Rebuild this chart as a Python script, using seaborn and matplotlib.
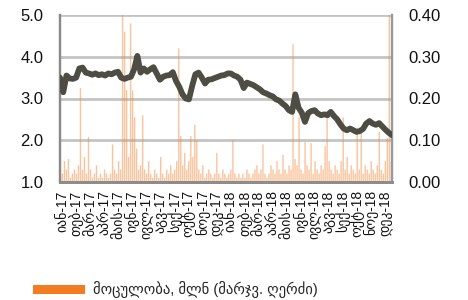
import numpy as np
import pandas as pd
import matplotlib
matplotlib.use("Agg")
import matplotlib.pyplot as plt
from matplotlib.patches import Patch
import seaborn as sns

# ---- data ----
month_labels = ["იან-17", "თებ-17", "მარ-17", "აპრ-17", "მაის-17", "ივნ-17",
                "ივლ-17", "აგვ-17", "სექ-17", "ოქტ-17", "ნოე-17", "დეკ-17",
                "იან-18", "თებ-18", "მარ-18", "აპრ-18", "მაის-18", "ივნ-18",
                "ივლ-18", "აგვ-18", "სექ-18", "ოქტ-18", "ნოე-18", "დეკ-18"]

price = [3.50, 3.15, 3.55, 3.48, 3.47, 3.50, 3.72, 3.74, 3.62, 3.60,
         3.57, 3.60, 3.56, 3.58, 3.55, 3.60, 3.58, 3.62, 3.64, 3.50,
         3.47, 3.50, 3.52, 3.70, 4.02, 3.62, 3.72, 3.64, 3.70, 3.75,
         3.60, 3.45, 3.52, 3.55, 3.56, 3.63, 3.42, 3.28, 3.10, 3.00,
         2.98, 3.30, 3.58, 3.62, 3.50, 3.36, 3.45, 3.46, 3.49, 3.52,
         3.55, 3.56, 3.60, 3.60, 3.55, 3.52, 3.45, 3.25, 3.38, 3.35,
         3.32, 3.27, 3.22, 3.15, 3.12, 3.08, 3.05, 2.98, 2.95, 2.88,
         2.82, 2.72, 2.68, 3.10, 2.78, 2.66, 2.44, 2.65, 2.70, 2.72,
         2.64, 2.60, 2.62, 2.60, 2.68, 2.58, 2.50, 2.38, 2.28, 2.24,
         2.28, 2.24, 2.20, 2.22, 2.27, 2.40, 2.46, 2.40, 2.37, 2.41,
         2.33, 2.25, 2.18, 2.12]

volume = [0.05, 0.02, 0.05, 0.03, 0.055, 0.01, 0.02, 0.03, 0.02, 0.04,
          0.225, 0.03, 0.06, 0.02, 0.108, 0.03, 0.01, 0.02, 0.04, 0.01,
          0.02, 0.01, 0.03, 0.02, 0.01, 0.02, 0.09, 0.03, 0.02, 0.05,
          0.03, 0.40, 0.36, 0.22, 0.06, 0.38, 0.22, 0.155, 0.08, 0.03,
          0.04, 0.16, 0.03, 0.02, 0.05, 0.02, 0.01, 0.03, 0.02, 0.01,
          0.06, 0.02, 0.01, 0.03, 0.02, 0.04, 0.02, 0.03, 0.05, 0.32,
          0.11, 0.04, 0.07, 0.03, 0.05, 0.11, 0.06, 0.137, 0.10, 0.03,
          0.02, 0.04, 0.01, 0.02, 0.03, 0.02, 0.01, 0.02, 0.07, 0.02,
          0.01, 0.03, 0.02, 0.01, 0.02, 0.03, 0.10, 0.02, 0.01, 0.02,
          0.01, 0.02, 0.01, 0.03, 0.02, 0.01, 0.02, 0.03, 0.04, 0.02,
          0.03, 0.09, 0.02, 0.01, 0.02, 0.04, 0.03, 0.02, 0.05, 0.03,
          0.02, 0.065, 0.03, 0.02, 0.04, 0.03, 0.33, 0.055, 0.04, 0.156,
          0.03, 0.02, 0.096, 0.04, 0.03, 0.093, 0.02, 0.05, 0.03, 0.02,
          0.04, 0.03, 0.086, 0.17, 0.05, 0.03, 0.02, 0.04, 0.03, 0.02,
          0.05, 0.155, 0.03, 0.06, 0.02, 0.04, 0.03, 0.02, 0.13, 0.03,
          0.13, 0.02, 0.04, 0.03, 0.02, 0.05, 0.03, 0.02, 0.04, 0.12,
          0.03, 0.02, 0.05, 0.105, 0.40, 0.05]

legend_label = "მოცულობა, მლნ (მარჯვ. ღერძი)"

# ---- style ----
sns.set_theme(style="white")
plt.rcParams["font.family"] = ["Liberation Sans", "DejaVu Sans"]

x_lo, x_hi = -0.14, 23.5
df_p = pd.DataFrame({"x": np.linspace(x_lo, x_hi, len(price)), "price": price})
df_v = pd.DataFrame({"x": np.linspace(x_lo + 0.03, x_hi - 0.05, len(volume)), "vol": volume})

fig = plt.figure(figsize=(4.68, 3.0), dpi=100, facecolor="white")
ax = fig.add_axes([60 / 468, 1 - 182 / 300, 332 / 468, 167 / 300])  # bars (right scale)
ax2 = ax.twinx()  # line (left scale)
ax2.patch.set_visible(False)

vol_ticks = np.arange(0, 0.41, 0.10)
price_ticks = np.arange(1.0, 5.01, 1.0)

# gridlines below the bars
ax.hlines(vol_ticks[1:], x_lo, x_hi, colors="#c4c4c4", linewidth=2.0, zorder=1)

ax.bar(df_v["x"], df_v["vol"], width=0.1, color="#f58a3c", alpha=0.5,
       linewidth=0, zorder=2, snap=False)

sns.lineplot(data=df_p, x="x", y="price", ax=ax2, color="#4d4d43",
             linewidth=4.2, zorder=3)

ax.yaxis.tick_right()
ax.yaxis.set_label_position("right")
ax2.yaxis.tick_left()
ax2.yaxis.set_label_position("left")

ax.set_yticks(vol_ticks)
ax.set_yticklabels([f"{v:.2f}" for v in vol_ticks])
ax2.set_yticks(price_ticks)
ax2.set_yticklabels([f"{v:.1f}" for v in price_ticks])

ax.set_xticks(np.arange(len(month_labels)))
ax.set_xticklabels(month_labels, rotation=90, fontsize=10)
for a in (ax, ax2):
    a.set_xlabel("")
    a.set_ylabel("")
ax.set_xlim(x_lo, x_hi)
ax2.set_xlim(x_lo, x_hi)
ax.set_ylim(0, 0.40)
ax2.set_ylim(1.0, 5.0)

ax.tick_params(axis="y", length=0, pad=12, labelsize=12, labelcolor="#111111")
ax2.tick_params(axis="y", length=0, pad=12, labelsize=12, labelcolor="#111111")
ax.tick_params(axis="x", length=0, pad=6, labelcolor="#111111")
ax2.tick_params(axis="x", length=0)

for a in (ax, ax2):
    a.spines["top"].set_visible(False)
    a.spines["left"].set_color("#8a8a8a")
    a.spines["left"].set_linewidth(1.6)
    a.spines["right"].set_color("#9a9a9a")
    a.spines["right"].set_linewidth(1.6)
    a.spines["bottom"].set_color("#8c8c8c")
    a.spines["bottom"].set_linewidth(2)

handle = Patch(facecolor="#f47b20", edgecolor="none")
fig.legend([handle], [legend_label], loc="center left",
           bbox_to_anchor=(27 / 468, 1 - 290 / 300), frameon=False,
           handlelength=3.6, handleheight=0.6, handletextpad=0.5,
           borderaxespad=0, fontsize=10.5)

fig.savefig("out.png", dpi=100, facecolor="white")
